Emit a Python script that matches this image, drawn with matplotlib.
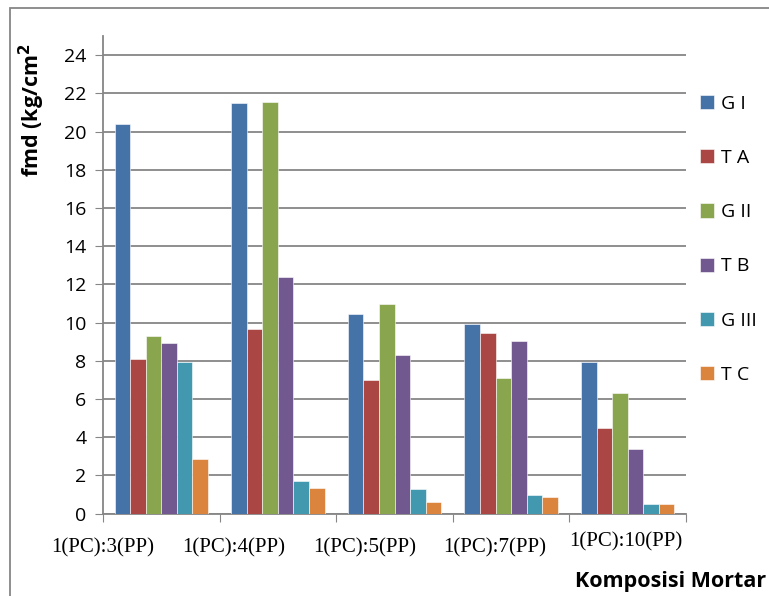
import numpy as np
import matplotlib.pyplot as plt
from matplotlib.patches import Rectangle

categories = ['1(PC):3(PP)', '1(PC):4(PP)', '1(PC):5(PP)', '1(PC):7(PP)', '1(PC):10(PP)']
series = ['G I', 'T A', 'G II', 'T B', 'G III', 'T C']
g1 = [20.4, 21.5, 10.45, 9.95, 7.95]
ta = [8.1, 9.65, 7.0, 9.45, 4.5]
g2 = [9.3, 21.55, 11.0, 7.1, 6.3]
tb = [8.95, 12.4, 8.3, 9.05, 3.4]
g3 = [7.95, 1.7, 1.3, 1.0, 0.5]
tc = [2.85, 1.35, 0.6, 0.9, 0.5]
colors = ['#4572A7', '#AA4643', '#89A54E', '#71588F', '#4198AF', '#DB843D']

plt.rcParams['font.family'] = ['Open Sans', 'DejaVu Sans']

fig = plt.figure(figsize=(7.69, 5.96), dpi=100)
ax = fig.add_axes([103 / 769, 1 - 513.7 / 596, 583 / 769, (513.7 - 36) / 596])

x = np.arange(len(categories))
w = 0.8 / len(series)
for i, (vals, name) in enumerate(zip([g1, ta, g2, tb, g3, tc], series)):
    ax.bar(x - 0.4 + w * (i + 0.5), vals, w, color=colors[i], label=name,
           edgecolor='white', linewidth=0.4, zorder=3)

ax.set_xlim(-0.5, len(categories) - 0.5)
ax.set_ylim(0, 25)
ax.set_yticks(np.arange(0, 25, 2))
ax.tick_params(axis='y', labelsize=14, length=6, color='#868686', pad=6)
ax.set_xticks(np.arange(len(categories) + 1) - 0.5)
ax.set_xticklabels([])
ax.tick_params(axis='x', length=6, color='#868686')
ax.grid(axis='y', color='#868686', linewidth=1.3, zorder=0)
for s in ['top', 'right']:
    ax.spines[s].set_visible(False)
for s in ['left', 'bottom']:
    ax.spines[s].set_color('#868686')
    ax.spines[s].set_linewidth(1.3)

# category labels sit offset left of the groups, as in the original
for i, lab in enumerate(categories):
    ax.text(i - 0.5 + 0.12 * i, -1.8 if i < 4 else -1.45, lab, ha='center', va='center',
            family='Liberation Serif', fontsize=15, transform=ax.transData, clip_on=False)

ax.legend(loc='upper left', bbox_to_anchor=(1.0, 0.905), frameon=False, fontsize=14,
          handlelength=0.75, handleheight=0.75, handletextpad=0.35, labelspacing=1.86,
          borderaxespad=0.3)

fig.text(32 / 769, 1 - 110 / 596, 'fmd (kg/cm$^\\mathbf{2}$', rotation=90, ha='center', va='center',
         fontsize=15.5, fontweight='bold')
fig.text(766 / 769, 1 - 581 / 596, 'Komposisi Mortar', ha='right', va='center',
         fontsize=15.5, fontweight='bold')

fig.patches.append(Rectangle((10 / 769, -0.1), 1.2, 1 - 8 / 596 + 0.1, transform=fig.transFigure,
                             fill=False, edgecolor='#868686', linewidth=1.3))

fig.savefig('out.png', dpi=100)
